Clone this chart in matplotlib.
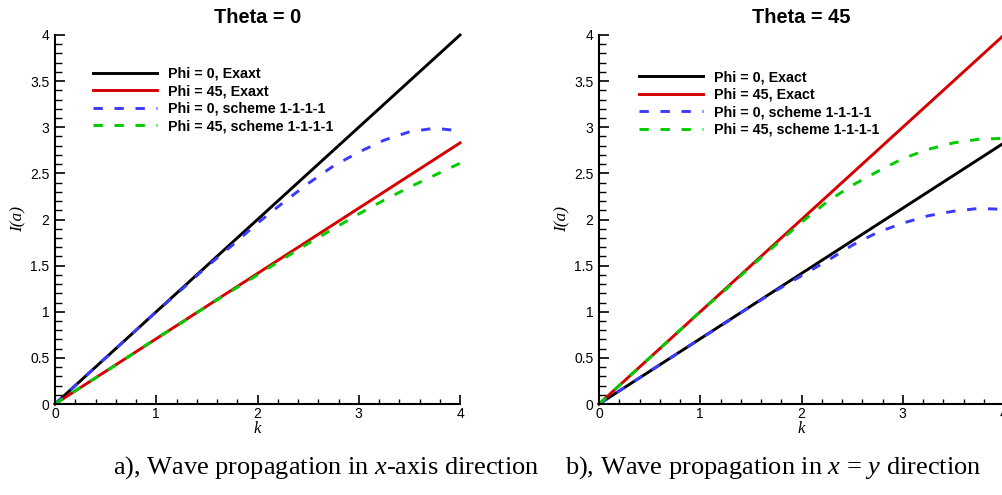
import matplotlib
matplotlib.use("Agg")
import matplotlib.pyplot as plt
from matplotlib.ticker import MultipleLocator

# ---- data ----
k_exact = [0.0, 4.0]
k_grid = [0, 0.25, 0.5, 0.75, 1.0, 1.25, 1.5, 1.75, 2.0, 2.25, 2.5, 2.75, 3.0, 3.25, 3.5, 3.75, 4.0]

# Theta = 0
t0_phi0_exact = [0.0, 4.0]
t0_phi45_exact = [0.0, 2.83]
t0_phi0_scheme = [0, 0.25, 0.50, 0.75, 1.00, 1.24, 1.49, 1.72, 1.96, 2.18, 2.39, 2.58, 2.73, 2.86, 2.95, 2.99, 2.96]
t0_phi45_scheme = [0, 0.18, 0.35, 0.53, 0.71, 0.88, 1.06, 1.23, 1.40, 1.57, 1.74, 1.90, 2.06, 2.21, 2.35, 2.48, 2.61]

# Theta = 45
t45_phi0_exact = [0.0, 2.83]
t45_phi45_exact = [0.0, 4.0]
t45_phi0_scheme = [0, 0.177, 0.354, 0.53, 0.707, 0.88, 1.06, 1.23, 1.39, 1.55, 1.72, 1.86, 1.96, 2.04, 2.09, 2.12, 2.11]
t45_phi45_scheme = [0, 0.25, 0.50, 0.75, 1.00, 1.24, 1.49, 1.73, 1.97, 2.19, 2.37, 2.52, 2.66, 2.76, 2.83, 2.87, 2.88]

titles = ["Theta = 0", "Theta = 45"]
labels_left = ["Phi = 0, Exaxt", "Phi = 45, Exaxt", "Phi = 0, scheme 1-1-1-1", "Phi = 45, scheme 1-1-1-1"]
labels_right = ["Phi = 0, Exact", "Phi = 45, Exact", "Phi = 0, scheme 1-1-1-1", "Phi = 45, scheme 1-1-1-1"]
captions = ["a), Wave propagation in $\\it{x}$-axis direction",
            "b), Wave propagation in $\\it{x}$ = $\\it{y}$ direction"]

BLACK = "#000000"
RED = "#d60000"
BLUE = "#3a3aff"
GREEN = "#00cc00"

SANS = "Liberation Sans"
SERIF = "Liberation Serif"
plt.rcParams['font.family'] = [SANS, 'DejaVu Sans']
plt.rcParams['mathtext.fontset'] = 'custom'
plt.rcParams['mathtext.it'] = 'Liberation Serif:italic'
plt.rcParams['mathtext.rm'] = 'Liberation Serif'

W, H = 1002, 495
fig = plt.figure(figsize=(W / 100, H / 100), dpi=100)

ax1 = fig.add_axes([55 / W, 91 / H, 405 / W, 369 / H])
ax2 = fig.add_axes([599 / W, 91 / H, 405 / W, 369 / H])

lw = 2.1
dash = (3.2, 4.0)

def style(ax, title):
    ax.set_xlim(0, 4)
    ax.set_ylim(0, 4)
    for s in ["top", "right"]:
        ax.spines[s].set_visible(False)
    for s in ["left", "bottom"]:
        ax.spines[s].set_linewidth(1.5)
    ax.xaxis.set_major_locator(MultipleLocator(1))
    ax.xaxis.set_minor_locator(MultipleLocator(0.2))
    ax.yaxis.set_major_locator(MultipleLocator(0.5))
    ax.yaxis.set_minor_locator(MultipleLocator(0.1))
    ax.xaxis.set_major_formatter(plt.FuncFormatter(lambda v, p: f"{v:g}"))
    ax.yaxis.set_major_formatter(plt.FuncFormatter(lambda v, p: f"{v:g}"))
    ax.tick_params(axis="x", which="major", direction="in", length=6.5, width=1.2, pad=2.0,
                   labelsize=10)
    ax.tick_params(axis="x", which="minor", direction="in", length=3.3, width=1.0)
    ax.tick_params(axis="y", which="major", direction="in", length=7.2, width=1.2, pad=4.0,
                   labelsize=10)
    ax.tick_params(axis="y", which="minor", direction="in", length=5.0, width=1.0)
    ax.set_title(title, fontsize=14.4, fontweight="bold", fontfamily=SANS, pad=8.5)
    ax.set_xlabel("k", fontsize=12, fontstyle="italic", fontfamily=SERIF, labelpad=0.5)
    ax.set_ylabel("I(a)", fontsize=12.5, fontstyle="italic", fontfamily=SERIF)
    ax.yaxis.set_label_coords(-0.070, 0.5)

# left panel
ax1.plot(k_exact, t0_phi0_exact, color=BLACK, lw=lw, label=labels_left[0], clip_on=False)
ax1.plot(k_exact, t0_phi45_exact, color=RED, lw=lw, label=labels_left[1], clip_on=False)
ax1.plot(k_grid, t0_phi0_scheme, color=BLUE, lw=lw, dashes=dash, label=labels_left[2], clip_on=False)
ax1.plot(k_grid, t0_phi45_scheme, color=GREEN, lw=lw, dashes=dash, label=labels_left[3], clip_on=False)
style(ax1, titles[0])

# right panel
ax2.plot(k_exact, t45_phi0_exact, color=BLACK, lw=lw, label=labels_right[0], clip_on=False)
ax2.plot(k_exact, t45_phi45_exact, color=RED, lw=lw, label=labels_right[1], clip_on=False)
ax2.plot(k_grid, t45_phi0_scheme, color=BLUE, lw=lw, dashes=dash, label=labels_right[2], clip_on=False)
ax2.plot(k_grid, t45_phi45_scheme, color=GREEN, lw=lw, dashes=dash, label=labels_right[3], clip_on=False)
style(ax2, titles[1])

leg_font = {"family": SANS, "weight": "bold", "size": 10.3}
for ax, anchor in [(ax1, (0.094, 0.914)), (ax2, (0.099, 0.904))]:
    ax.legend(loc="upper left", bbox_to_anchor=anchor, frameon=False, prop=leg_font,
              handlelength=4.5, handletextpad=0.75, labelspacing=0.24, borderpad=0,
              borderaxespad=0)

fig.text(113 / W, 1 - 474 / H, captions[0], fontsize=19, fontfamily=SERIF,
         ha="left", va="baseline")
fig.text(565 / W, 1 - 474 / H, captions[1], fontsize=19, fontfamily=SERIF,
         ha="left", va="baseline")

fig.savefig("out.png", dpi=100)
